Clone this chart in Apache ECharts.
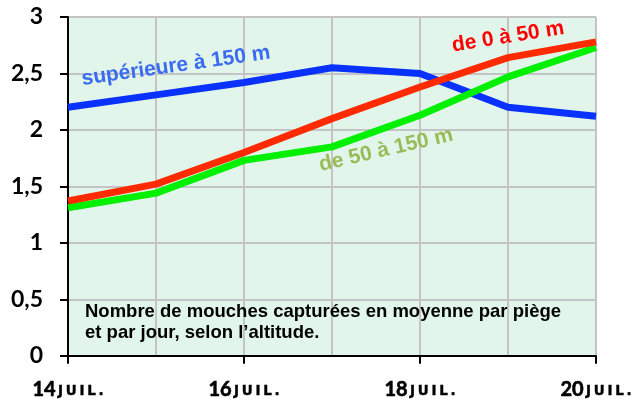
<!DOCTYPE html>
<html>
<head>
<meta charset="utf-8">
<script src="https://cdn.jsdelivr.net/npm/echarts@6/dist/echarts.min.js"></script>
<style>html,body{margin:0;padding:0;background:#fff}#c{width:636px;height:400px}</style>
</head>
<body>
<div id="c"></div>
<script>
var days = ['14', '15', '16', '17', '18', '19', '20'];
var monthLabel = 'J\u2009U\u2009I\u2009L\u2009.';
var seriesNames = ['supérieure à 150 m', 'de 0 à 50 m', 'de 50 à 150 m'];
var sup150 = [2.20, 2.31, 2.42, 2.55, 2.50, 2.20, 2.12];
var de0a50 = [1.37, 1.52, 1.80, 2.10, 2.38, 2.64, 2.78];
var de50a150 = [1.31, 1.44, 1.73, 1.85, 2.13, 2.47, 2.73];
var yTicks = [0, 0.5, 1, 1.5, 2, 2.5, 3];
var noteLines = ['Nombre de mouches capturées en moyenne par piège', 'et par jour, selon l\u2019altitude.'];

var chart = echarts.init(document.getElementById('c'));
var lineW = 7;
var labelFont = 'bold 21px "Liberation Sans", Arial';
var option = {
  animation: false,
  grid: {left: 68, right: 40, top: 17, bottom: 44, show: true, backgroundColor: '#e1f5ea', borderWidth: 0},
  xAxis: {
    type: 'category', data: days, boundaryGap: false,
    axisLine: {lineStyle: {color: '#000', width: 2}},
    axisTick: {show: true, interval: 1, length: 8, lineStyle: {color: '#000', width: 2}},
    axisLabel: {interval: 1, margin: 24, fontFamily: 'Lato', fontWeight: 700, fontSize: 20, color: '#000',
      formatter: function (v) { return '{n|' + v + '\u2009}{m|' + monthLabel + '}'; },
      rich: {n: {fontFamily: 'Lato', fontWeight: 700, fontSize: 20, color: '#000', textBorderColor: '#000', textBorderWidth: 0.6},
             m: {fontFamily: 'DejaVu Sans', fontWeight: 700, fontSize: 13.5, color: '#000', textBorderColor: '#000', textBorderWidth: 0.4, padding: [3, 0, 0, 0]}}},
    splitLine: {show: true, interval: 0, lineStyle: {color: '#c4c4c4', width: 2}}
  },
  yAxis: {
    type: 'value', min: yTicks[0], max: yTicks[yTicks.length - 1], interval: 0.5,
    axisLine: {show: true, lineStyle: {color: '#000', width: 2}},
    axisTick: {show: true, length: 8, lineStyle: {color: '#000', width: 2}},
    axisLabel: {margin: 25, fontFamily: 'Lato', fontWeight: 'bold', fontSize: 23, color: '#000',
      formatter: function (v) { return String(v).replace('.', ','); }},
    splitLine: {show: true, lineStyle: {color: '#c4c4c4', width: 2}}
  },
  series: [
    {name: seriesNames[0], type: 'line', data: sup150, symbol: 'none', lineStyle: {color: '#0a32ff', width: lineW}, z: 3},
    {name: seriesNames[2], type: 'line', data: de50a150, symbol: 'none', lineStyle: {color: '#00f000', width: lineW}, z: 4},
    {name: seriesNames[1], type: 'line', data: de0a50, symbol: 'none', lineStyle: {color: '#ff2a00', width: lineW}, z: 5}
  ],
  graphic: [
    {type: 'text', z: 100, x: 176, y: 66, rotation: 8 * Math.PI / 180,
      style: {text: seriesNames[0], fill: '#3a6cf2', font: labelFont, align: 'center', verticalAlign: 'middle'}},
    {type: 'text', z: 100, x: 508, y: 37, rotation: 9 * Math.PI / 180,
      style: {text: seriesNames[1], fill: '#ff0000', font: labelFont, align: 'center', verticalAlign: 'middle'}},
    {type: 'text', z: 100, x: 386, y: 150, rotation: 13 * Math.PI / 180,
      style: {text: seriesNames[2], fill: '#9bbb59', font: labelFont, align: 'center', verticalAlign: 'middle'}},
    {type: 'text', z: 100, x: 85, y: 312,
      style: {text: noteLines[0], fill: '#000', font: 'bold 18.5px "Liberation Sans", Arial', verticalAlign: 'middle'}},
    {type: 'text', z: 100, x: 85, y: 333,
      style: {text: noteLines[1], fill: '#000', font: 'bold 18.5px "Liberation Sans", Arial', verticalAlign: 'middle'}}
  ]
};
chart.setOption(option);
</script>
</body>
</html>
